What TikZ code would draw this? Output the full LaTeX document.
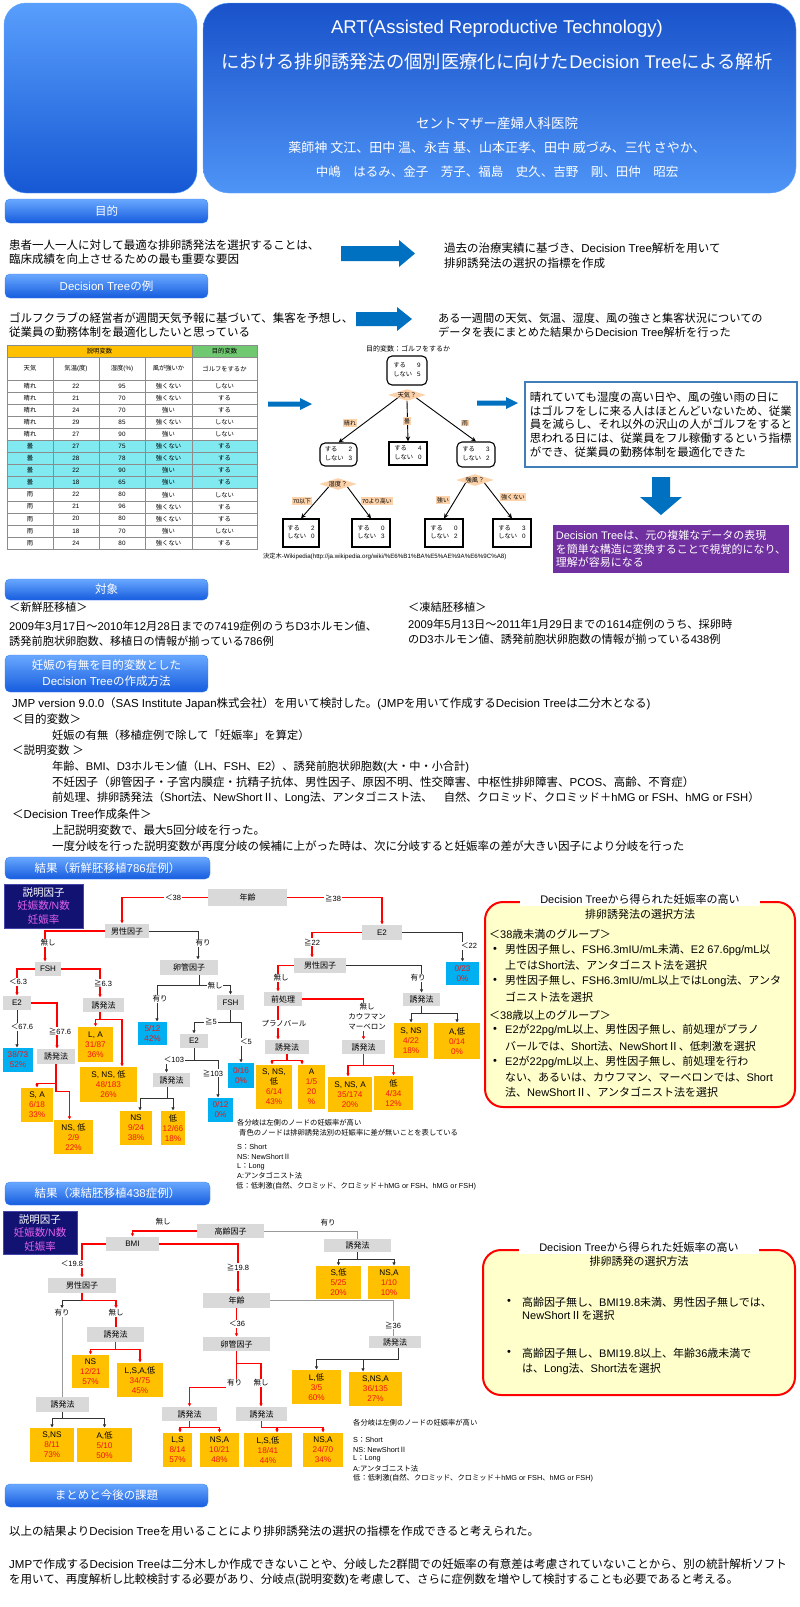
\documentclass[tikz,border=0pt]{standalone}
\usepackage{fontspec}
\setmainfont{Liberation Sans}
\newfontfamily\cjkf{Noto Sans CJK JP}
\newfontfamily\latf{Liberation Sans}
\XeTeXinterchartokenstate=1
\newXeTeXintercharclass\CJKcls
\newcount\cjkcc
\cjkcc="2E80 \loop \XeTeXcharclass\cjkcc=\CJKcls \ifnum\cjkcc<"9FFF \advance\cjkcc by 1 \repeat
\cjkcc="FF00 \loop \XeTeXcharclass\cjkcc=\CJKcls \ifnum\cjkcc<"FFEF \advance\cjkcc by 1 \repeat
\cjkcc="2160 \loop \XeTeXcharclass\cjkcc=\CJKcls \ifnum\cjkcc<"217F \advance\cjkcc by 1 \repeat
\XeTeXcharclass"2266=\CJKcls
\XeTeXcharclass"2267=\CJKcls
\XeTeXinterchartoks 0 \CJKcls = {\cjkf}
\XeTeXinterchartoks 4095 \CJKcls = {\cjkf}
\XeTeXinterchartoks \CJKcls 0 = {\latf}
\XeTeXinterchartoks 4095 0 = {\latf}
\usetikzlibrary{arrows.meta,shapes.geometric}
\definecolor{arrowblue}{RGB}{0,112,192}
\definecolor{boxgray}{RGB}{217,217,217}
\definecolor{boxorange}{RGB}{255,192,0}
\definecolor{boxblue}{RGB}{0,176,240}
\definecolor{resred}{RGB}{240,20,20}
\definecolor{navyfill}{RGB}{18,18,115}
\definecolor{navyedge}{RGB}{70,70,170}
\definecolor{pinktext}{RGB}{225,95,235}
\definecolor{peach}{RGB}{252,210,170}
\definecolor{purplebox}{RGB}{112,48,160}
\definecolor{steelbd}{RGB}{65,125,185}
\definecolor{lyellow}{RGB}{255,255,204}
\definecolor{tcyan}{RGB}{128,234,240}
\definecolor{tyellow}{RGB}{255,192,0}
\definecolor{tgreen}{RGB}{112,200,112}
\definecolor{barA}{RGB}{105,168,255}
\definecolor{barB}{RGB}{22,92,222}
\definecolor{barE}{RGB}{60,130,240}
\definecolor{hlA}{RGB}{88,158,252}
\definecolor{hlB}{RGB}{22,88,212}
\definecolor{htA}{RGB}{25,82,202}
\definecolor{htB}{RGB}{78,148,246}
\definecolor{hedge}{RGB}{95,165,255}
\newcounter{tn}
\newcommand\tx[3][]{\stepcounter{tn}\node[txt,#1] (t\thetn) at (#2) {#3};}
\newcommand\bx[7]{\node[#6,minimum width={(#4)-(#2)},minimum height={(#5)-(#3)}] (#1) at ({((#2)+(#4))/2},{((#3)+(#5))/2}) {#7};}
\newcommand\rr[1]{\textcolor{resred}{#1}}
\newcommand\secbar[6]{\shadedraw[top color=barA,bottom color=barB,draw=barE,rounded corners=5pt] (#2,#3) rectangle (#4,#5);
 \node[bartxt] (#1) at ({((#2)+(#4))/2},{((#3)+(#5))/2}) {#6};}
\newcommand\gval[2]{\begin{tabular}{@{}l@{\hspace{5pt}}r@{}}する&#1\\しない&#2\end{tabular}}
\begin{document}
\begin{tikzpicture}[x=1pt,y=-1pt,
 txt/.style={anchor=west,inner sep=0pt,font=\fontsize{11.5}{13.5}\selectfont},
 sm/.style={font=\fontsize{11.2}{13.5}\selectfont},
 bartxt/.style={text=white,inner sep=0pt,align=center,font=\fontsize{11.5}{16}\selectfont},
 gb/.style={fill=boxgray,inner sep=0pt,font=\fontsize{8}{9}\selectfont},
 ob/.style={fill=boxorange,inner sep=0pt,align=center,font=\fontsize{8.2}{10}\selectfont},
 bb/.style={fill=boxblue,inner sep=0pt,align=center,font=\fontsize{8.2}{10}\selectfont,text=resred},
 rl/.style={draw=red,line width=1.2pt},
 kl/.style={draw=black!80,line width=0.9pt},
 gl/.style={draw=black!40,line width=0.9pt},
 arr/.style={-{Latex[length=3.5pt,width=3.5pt]}},
 lab/.style={fill=white,inner sep=0.8pt,font=\fontsize{7.5}{10}\selectfont,align=center},
 legbox/.style={fill=navyfill,draw=navyedge,inner sep=0pt,align=center,text=white,font=\fontsize{10.5}{13.5}\selectfont},
 gnode/.style={draw,line width=1.1pt,inner sep=0pt,font=\fontsize{6.3}{8.5}\selectfont},
 gdia/.style={shape=diamond,fill=peach,inner sep=0pt,aspect=3.2,font=\fontsize{6.3}{7}\selectfont},
 glab/.style={fill=peach,inner sep=1pt,font=\fontsize{5.8}{7}\selectfont},
 gedge/.style={draw=black,line width=0.9pt,-{Stealth[length=5pt,width=4.5pt]}},
 tgrid/.style={draw=black!45,line width=0.4pt},
 tc/.style={inner sep=0pt,font=\fontsize{6.3}{7}\selectfont},
 rbox/.style={draw=red,line width=2pt,fill=lyellow,rounded corners=18pt,inner sep=0pt},
 rtitle/.style={fill=white,inner xsep=20pt,inner ysep=2pt,font=\fontsize{11}{13}\selectfont},
 fb/.style={txt,font=\fontsize{11}{13}\selectfont},
 note/.style={txt,font=\fontsize{7.3}{9}\selectfont},
 ttl/.style={anchor=center,text=white},
]
\useasboundingbox (0,0) rectangle (800,1607);
% ---------------- header
\shadedraw[top color=hlA,bottom color=hlB,draw=hedge,rounded corners=22pt] (4,3) rectangle (197,193);
\shadedraw[top color=htA,bottom color=htB,draw=hedge,rounded corners=26pt] (203,3) rectangle (796,193);
\tx[ttl,font=\fontsize{18.5}{21}\selectfont]{497,29}{ART(Assisted Reproductive Technology)}
\tx[ttl,font=\fontsize{18.3}{21}\selectfont]{497,62}{における排卵誘発法の個別医療化に向けたDecision Treeによる解析}
\tx[ttl,font=\fontsize{13.5}{15}\selectfont]{497,123}{セントマザー産婦人科医院}
\tx[ttl,font=\fontsize{13}{15}\selectfont]{497,148}{薬師神 文江、田中 温、永吉 基、山本正孝、田中 威づみ、三代 さやか、}
\tx[ttl,font=\fontsize{12.5}{15}\selectfont]{497,172}{中嶋　はるみ、金子　芳子、福島　史久、吉野　剛、田仲　昭宏}
% ---------------- purpose
\secbar{bar1}{5}{199}{208}{223}{目的}
\tx{9,245}{患者一人一人に対して最適な排卵誘発法を選択することは、}
\tx{9,259}{臨床成績を向上させるための最も重要な要因}
\fill[arrowblue] (341,246) -- (399,246) -- (399,240) -- (415,253.5) -- (399,267) -- (399,261) -- (341,261) -- cycle;
\tx{444,248}{過去の治療実績に基づき、Decision Tree解析を用いて}
\tx{444,263}{排卵誘発法の選択の指標を作成}
\secbar{bar2}{5}{274}{208}{298}{Decision Treeの例}
\tx{9,318}{ゴルフクラブの経営者が週間天気予報に基づいて、集客を予想し、}
\tx{9,332}{従業員の勤務体制を最適化したいと思っている}
\fill[arrowblue] (356,312) -- (397,312) -- (397,307) -- (412,319) -- (397,331) -- (397,326) -- (356,326) -- cycle;
\tx[sm]{438,318}{ある一週間の天気、気温、湿度、風の強さと集客状況についての}
\tx[sm]{438,332}{データを表にまとめた結果からDecision Tree解析を行った}
% ---------------- golf table
\fill[tyellow] (7,345) rectangle (192,357);
\fill[tgreen] (192,345) rectangle (257,357);
\fill[tcyan] (7,440.35) rectangle (257,488.63);
\draw[tgrid] (7,345) rectangle (257,549);
\draw[tgrid] (7,357) -- (257,357) (192,345) -- (192,357);
\foreach \i in {0,...,13} \draw[tgrid] (7,{380+\i*12.07}) -- (257,{380+\i*12.07});
\foreach \xx in {53,99,145,192} \draw[tgrid] (\xx,357) -- (\xx,549);
\node[tc] (th1) at (99.5,351) {説明変数};
\node[tc] (th2) at (224.5,351) {目的変数};
\node[tc] (th3) at (30,368.5) {天気};
\node[tc] (th4) at (76,368.5) {気温(度)};
\node[tc] (th5) at (122,368.5) {湿度(\%)};
\node[tc] (th6) at (168.5,368.5) {風が強いか};
\node[tc] (th7) at (224.5,368.5) {ゴルフをするか};
\foreach \a/\b/\c/\d/\e [count=\i from 0] in {晴れ/22/95/強くない/しない,晴れ/21/70/強くない/する,晴れ/24/70/強い/する,晴れ/29/85/強くない/しない,晴れ/27/90/強い/しない,曇/27/75/強くない/する,曇/28/78/強くない/する,曇/22/90/強い/する,曇/18/65/強い/する,雨/22/80/強い/しない,雨/21/96/強くない/する,雨/20/80/強くない/する,雨/18/70/強い/しない,雨/24/80/強くない/する}{
 \pgfmathsetmacro\yy{386.03+\i*12.07}
 \node[tc] (ca\i) at (30,\yy) {\a};
 \node[tc] (cb\i) at (76,\yy) {\b};
 \node[tc] (cc\i) at (122,\yy) {\c};
 \node[tc] (cd\i) at (168.5,\yy) {\d};
 \node[tc] (ce\i) at (224.5,\yy) {\e};
}
\fill[arrowblue] (268,401.5) -- (300,401.5) -- (300,398) -- (312,404) -- (300,410) -- (300,406.5) -- (268,406.5) -- cycle;
% ---------------- golf tree
\node[inner sep=0pt,font=\fontsize{7}{8}\selectfont] (gtitle) at (408,349) {目的変数：ゴルフをするか};
\bx{groot}{387}{356}{427}{385}{gnode,rounded corners=5pt}{\gval{9}{5}}
\node[gdia] (d1) at (407,395) {天気？};
\bx{gc1}{320}{443}{357}{466}{gnode,rounded corners=5pt}{\gval{2}{3}}
\bx{gc2}{389}{442}{427}{465}{gnode}{\gval{4}{0}}
\bx{gc3}{457}{442}{495}{467}{gnode,rounded corners=5pt}{\gval{3}{2}}
\node[gdia] (d2) at (338,484) {湿度？};
\node[gdia] (d3) at (475,480) {強風？};
\bx{gl1}{283}{519}{319}{547}{gnode}{\gval{2}{0}}
\bx{gl2}{352}{519}{390}{547}{gnode}{\gval{0}{3}}
\bx{gl3}{425}{519}{463}{547}{gnode}{\gval{0}{2}}
\bx{gl4}{493}{519}{531}{547}{gnode}{\gval{3}{0}}
\draw[gedge] (d1.south west) -- (gc1.north);
\draw[gedge] (d1.south) -- (gc2.north);
\draw[gedge] (d1.south east) -- (gc3.north);
\draw[gedge] (d2.south west) -- (gl1.north);
\draw[gedge] (d2.south east) -- (gl2.north);
\draw[gedge] (d3.south west) -- (gl3.north);
\draw[gedge] (d3.south east) -- (gl4.north);
\node[glab] (ge1) at (350,423) {晴れ};
\node[glab] (ge2) at (407,421) {曇};
\node[glab] (ge3) at (465,423) {雨};
\node[glab] (ge4) at (302,501) {70以下};
\node[glab] (ge5) at (377,501) {70より高い};
\node[glab] (ge6) at (443,500) {強い};
\node[glab] (ge7) at (513,497) {強くない};
\node[anchor=west,inner sep=0pt,font=\fontsize{6.2}{7}\selectfont] (gcap) at (263,557) {決定木-Wikipedia(http://ja.wikipedia.org/wiki/\%E6\%B1\%BA\%E5\%AE\%9A\%E6\%9C\%A8)};
\fill[arrowblue] (477,400.5) -- (506,400.5) -- (506,397) -- (518,403) -- (506,409) -- (506,405.5) -- (477,405.5) -- cycle;
\node[draw=steelbd,line width=1.4pt,fill=white,minimum width=272,minimum height=85,align=left,inner sep=0pt,font=\fontsize{11.4}{13.6}\selectfont] (gbox) at (661,424.5) {晴れていても湿度の高い日や、風の強い雨の日に\\はゴルフをしに来る人はほとんどいないため、従業\\員を減らし、それ以外の沢山の人がゴルフをすると\\思われる日には、従業員をフル稼働するという指標\\ができ、従業員の勤務体制を最適化できた};
\fill[arrowblue] (652,477) -- (670,477) -- (670,497) -- (682,497) -- (661,515) -- (640,497) -- (652,497) -- cycle;
\node[fill=purplebox,minimum width=236,minimum height=48,align=left,inner sep=0pt,text=white,font=\fontsize{11}{13.5}\selectfont] (pbox) at (671,549) {Decision Treeは、元の複雑なデータの表現\\を簡単な構造に変換することで視覚的になり、\\理解が容易になる};
% ---------------- subjects
\secbar{bar3}{5}{579}{208}{600}{対象}
\tx[sm]{9,607}{＜新鮮胚移植＞}
\tx[sm]{9,626}{2009年3月17日～2010年12月28日までの7419症例のうちD3ホルモン値、}
\tx[sm]{9,641}{誘発前胞状卵胞数、移植日の情報が揃っている786例}
\tx[sm]{408,607}{＜凍結胚移植＞}
\tx[sm]{408,624}{2009年5月13日～2011年1月29日までの1614症例のうち、採卵時}
\tx[sm]{408,639}{のD3ホルモン値、誘発前胞状卵胞数の情報が揃っている438例}
\secbar{bar4}{5}{655}{208}{692}{妊娠の有無を目的変数とした\\Decision Treeの作成方法}
\tx{12,704}{JMP version 9.0.0（SAS Institute Japan株式会社）を用いて検討した。(JMPを用いて作成するDecision Treeは二分木となる)}
\tx{12,719}{＜目的変数＞}
\tx[sm]{52,735}{妊娠の有無（移植症例で除して「妊娠率」を算定）}
\tx{12,750}{＜説明変数 ＞}
\tx[sm]{52,767}{年齢、BMI、D3ホルモン値（LH、FSH、E2）、誘発前胞状卵胞数(大・中・小合計)}
\tx{52,782}{不妊因子（卵管因子・子宮内膜症・抗精子抗体、男性因子、原因不明、性交障害、中枢性排卵障害、PCOS、高齢、不育症）}
\tx[sm]{52,798}{前処理、排卵誘発法（Short法、NewShortⅡ、Long法、アンタゴニスト法、　自然、クロミッド、クロミッド＋hMG or FSH、hMG or FSH）}
\tx{12,814}{＜Decision Tree作成条件＞}
\tx{52,830}{上記説明変数で、最大5回分岐を行った。}
\tx{52,846}{一度分岐を行った説明変数が再度分岐の候補に上がった時は、次に分岐すると妊娠率の差が大きい因子により分岐を行った}
% ---------------- fresh results
\secbar{bar5}{5}{857}{210}{879}{結果（新鮮胚移植786症例）}
\bx{leg1}{4}{884}{83}{928}{legbox}{説明因子\\\textcolor{pinktext}{妊娠数/N数}\\\textcolor{pinktext}{妊娠率}}
\bx{age}{208}{889}{287}{906}{gb}{年齢}
\bx{mf1}{105}{924}{149}{938}{gb}{男性因子}
\bx{fsh1}{35}{962}{61}{976}{gb}{FSH}
\bx{e2a}{3}{996}{31}{1010}{gb}{E2}
\bx{ind1}{83}{998}{124}{1012}{gb}{誘発法}
\bx{ind2}{37}{1049}{75}{1064}{gb}{誘発法}
\bx{tube1}{160}{960}{218}{975}{gb}{卵管因子}
\bx{fsh2}{217}{995}{244}{1010}{gb}{FSH}
\bx{e2b}{180}{1034}{208}{1048}{gb}{E2}
\bx{ind3}{153}{1073}{190}{1087}{gb}{誘発法}
\bx{e2c}{362}{925}{402}{940}{gb}{E2}
\bx{mf2}{294}{958}{346}{973}{gb}{男性因子}
\bx{pre}{264}{992}{302}{1006}{gb}{前処理}
\bx{ind4}{403}{993}{440}{1006}{gb}{誘発法}
\bx{ind5}{265}{1040}{309}{1054}{gb}{誘発法}
\bx{ind6}{342}{1040}{385}{1054}{gb}{誘発法}
\bx{b1}{3}{1048}{33}{1072}{bb}{38/73\\52\%}
\bx{o1}{21}{1088}{53}{1122}{ob}{S, A\\\rr{6/18}\\\rr{33\%}}
\bx{o2}{54}{1120}{93}{1154}{ob}{NS, 低\\\rr{2/9}\\\rr{22\%}}
\bx{o3}{78}{1027}{113}{1062}{ob}{L, A\\\rr{31/87}\\\rr{36\%}}
\bx{o4}{80}{1067}{137}{1102}{ob}{S, NS, 低\\\rr{48/183}\\\rr{26\%}}
\bx{b2}{138}{1022}{167}{1045}{bb}{5/12\\42\%}
\bx{b3}{228}{1063}{254}{1088}{bb}{0/16\\0\%}
\bx{b4}{208}{1098}{233}{1122}{bb}{0/12\\0\%}
\bx{o5}{120}{1111}{152}{1145}{ob}{NS\\\rr{9/24}\\\rr{38\%}}
\bx{o6}{161}{1111}{185}{1145}{ob}{低\\\rr{12/66}\\\rr{18\%}}
\bx{b5}{446}{962}{479}{985}{bb}{0/23\\0\%}
\bx{o7}{256}{1065}{292}{1109}{ob}{S, NS,\\低\\\rr{6/14}\\\rr{43\%}}
\bx{o8}{298}{1065}{325}{1109}{ob}{A\\\rr{1/5}\\\rr{20}\\\rr{\%}}
\bx{o9}{328}{1077}{372}{1112}{ob}{S, NS, A\\\rr{35/174}\\\rr{20\%}}
\bx{o10}{374}{1076}{413}{1110}{ob}{低\\\rr{4/34}\\\rr{12\%}}
\bx{o11}{394}{1023}{428}{1058}{ob}{S, NS\\\rr{4/22}\\\rr{18\%}}
\bx{o12}{434}{1023}{480}{1059}{ob}{A,低\\\rr{0/14}\\\rr{0\%}}
\draw[rl,arr] (age.west) -| ([xshift=-5pt]mf1.north);
\draw[rl,arr] (age.east) -| (e2c.north);
\draw[rl,arr] (mf1.west) -| ([xshift=-3pt]fsh1.north);
\draw[kl,arr] (mf1.east) -| ([xshift=9pt]tube1.north);
\draw[rl,arr] (fsh1.west) -| (e2a.north);
\draw[rl,arr] (fsh1.east) -| ([xshift=-3.5pt]ind1.north);
\draw[kl,arr] (e2a.south) -- (e2a.south |- b1.north);
\draw[rl,arr] (e2a.east) -| ([xshift=1pt]ind2.north);
\draw[rl,arr] (ind2.south) -- ++(0,19) -| (o1.north);
\draw[rl,arr] (ind2.south) -- ++(0,27) -| ([xshift=-4pt]o2.north);
\draw[rl,arr] ([xshift=-3.5pt]ind1.south) -- ++(0,7) -| (o3.north);
\draw[rl,arr] ([xshift=-3.5pt]ind1.south) -- ++(0,7) -| ([xshift=13.5pt]o4.north);
\draw[kl,arr] ([xshift=10pt]tube1.south) -- ++(0,10) -| ([xshift=4.5pt]b2.north);
\draw[kl,arr] ([xshift=10pt]tube1.south) -- ++(0,10) -| (fsh2.north);
\draw[kl,arr] (fsh2.south) -- ++(0,12) -| (e2b.north);
\draw[kl,arr] (fsh2.south) -- ++(0,12) -| (b3.north);
\draw[kl,arr] (e2b.south) -- ++(0,12) -| ([xshift=-5pt]ind3.north);
\draw[kl,arr] (e2b.south) -- ++(0,12) -| ([xshift=-2.5pt]b4.north);
\draw[kl,arr] ([xshift=-4.5pt]ind3.south) -- ++(0,11) -| ([xshift=4pt]o5.north);
\draw[kl,arr] ([xshift=-4.5pt]ind3.south) -- ++(0,11) -| (o6.north);
\draw[rl,arr] (e2c.west) -| ([xshift=-8pt]mf2.north);
\draw[kl,arr] (e2c.east) -| (b5.north);
\draw[rl,arr] (mf2.west) -| ([xshift=-5pt]pre.north);
\draw[kl,arr] (mf2.east) -| (ind4.north);
\draw[rl,arr] (pre.east) -| (ind6.north);
\draw[rl,arr] ([xshift=-5pt]pre.south) -- ([xshift=-5pt]pre.south |- ind5.north);
\draw[rl,arr] (ind5.south) -- ++(0,6) -| ([xshift=-2pt]o7.north);
\draw[rl,arr] (ind5.south) -- ++(0,6) -| ([xshift=-9.5pt]o8.north);
\draw[rl,arr] (ind6.south) -- ++(0,11) -| ([xshift=-2pt]o9.north);
\draw[rl,arr] (ind6.south) -- ++(0,11) -| (o10.north);
\draw[kl,arr] (ind4.south) -- ++(0,7) -| (o11.north);
\draw[kl,arr] (ind4.south) -- ++(0,7) -| (o12.north);
\node[lab] (l1) at (173,898) {＜38};
\node[lab] (l2) at (333,898) {≧38};
\node[lab] (l3) at (48,943) {無し};
\node[lab] (l4) at (203,943) {有り};
\node[lab] (l5) at (18,982) {＜6.3};
\node[lab] (l6) at (103,983) {≧6.3};
\node[lab] (l7) at (22,1027) {＜67.6};
\node[lab] (l8) at (60,1031) {≧67.6};
\node[lab] (l9) at (160,999) {有り};
\node[lab] (l10) at (215,986) {無し};
\node[lab] (l11) at (211,1021) {≧5};
\node[lab] (l12) at (246,1042) {＜5};
\node[lab] (l13) at (174,1060) {＜103};
\node[lab] (l14) at (213,1073) {≧103};
\node[lab] (l15) at (312,942) {≧22};
\node[lab] (l16) at (469,946) {＜22};
\node[lab] (l17) at (281,978) {無し};
\node[lab] (l18) at (418,978) {有り};
\node[lab] (l19) at (367,1017) {無し\\カウフマン\\マーベロン};
\node[lab] (l20) at (284,1024) {プラノバール};
\tx[note]{237,1123}{各分岐は左側のノードの妊娠率が高い}
\tx[note]{239,1133}{青色のノードは排卵誘発法別の妊娠率に差が無いことを表している}
\tx[note]{237,1147}{S：Short}
\tx[note]{237,1157}{NS: NewShortⅡ}
\tx[note]{237,1167}{L：Long}
\tx[note]{237,1176}{A:アンタゴニスト法}
\tx[note]{236,1186}{低：低刺激(自然、クロミッド、クロミッド＋hMG or FSH、hMG or FSH)}
% fresh summary box
\bx{rb1}{485}{902}{795}{1107}{rbox}{}
\node[rtitle] (rt1) at (640,899) {Decision Treeから得られた妊娠率の高い};
\node[inner sep=0pt,font=\fontsize{11}{13}\selectfont] (rt2) at (640,914) {排卵誘発法の選択方法};
\tx[fb]{489,934}{＜38歳未満のグループ＞}
\tx[fb]{493,950}{•}\tx[fb]{505,950}{男性因子無し、FSH6.3mIU/mL未満、E2 67.6pg/mL以}
\tx[fb]{505,965}{上ではShort法、アンタゴニスト法を選択}
\tx[fb]{493,981}{•}\tx[fb]{505,981}{男性因子無し、FSH6.3mIU/mL以上ではLong法、アンタ}
\tx[fb]{505,997}{ゴニスト法を選択}
\tx[fb]{489,1015}{＜38歳以上のグループ＞}
\tx[fb]{493,1030}{•}\tx[fb]{505,1030}{E2が22pg/mL以上、男性因子無し、前処理がプラノ}
\tx[fb]{505,1046}{バールでは、Short法、NewShortⅡ、低刺激を選択}
\tx[fb]{493,1062}{•}\tx[fb]{505,1062}{E2が22pg/mL以上、男性因子無し、前処理を行わ}
\tx[fb]{505,1077}{ない、あるいは、カウフマン、マーベロンでは、Short}
\tx[fb]{505,1092}{法、NewShortⅡ、アンタゴニスト法を選択}
% ---------------- frozen results
\secbar{bar6}{5}{1182}{210}{1205}{結果（凍結胚移植438症例）}
\bx{leg2}{3}{1211}{77}{1254}{legbox}{説明因子\\\textcolor{pinktext}{妊娠数/N数}\\\textcolor{pinktext}{妊娠率}}
\bx{old}{197}{1224}{264}{1238}{gb}{高齢因子}
\bx{bmi}{106}{1237}{159}{1251}{gb}{BMI}
\bx{ind7}{324}{1239}{391}{1252}{gb}{誘発法}
\bx{mf3}{48}{1278}{116}{1293}{gb}{男性因子}
\bx{age2}{203}{1293}{270}{1308}{gb}{年齢}
\bx{ind8}{87}{1327}{144}{1342}{gb}{誘発法}
\bx{ind9}{36}{1397}{89}{1412}{gb}{誘発法}
\bx{tube2}{203}{1337}{270}{1351}{gb}{卵管因子}
\bx{ind10}{369}{1336}{421}{1348}{gb}{誘発法}
\bx{ind11}{162}{1407}{217}{1421}{gb}{誘発法}
\bx{ind12}{236}{1407}{287}{1421}{gb}{誘発法}
\bx{p1}{316}{1266}{361}{1299}{ob}{S,低\\\rr{5/25}\\\rr{20\%}}
\bx{p2}{368}{1266}{410}{1299}{ob}{NS,A\\\rr{1/10}\\\rr{10\%}}
\bx{p3}{72}{1355}{109}{1388}{ob}{NS\\\rr{12/21}\\\rr{57\%}}
\bx{p4}{117}{1363}{163}{1397}{ob}{L,S,A,低\\\rr{34/75}\\\rr{45\%}}
\bx{p5}{30}{1428}{74}{1462}{ob}{S,NS\\\rr{8/11}\\\rr{73\%}}
\bx{p6}{77}{1428}{132}{1462}{ob}{A,低\\\rr{5/10}\\\rr{50\%}}
\bx{p7}{292}{1370}{341}{1404}{ob}{L,低\\\rr{3/5}\\\rr{60\%}}
\bx{p8}{349}{1372}{402}{1406}{ob}{S,NS,A\\\rr{36/135}\\\rr{27\%}}
\bx{p9}{163}{1433}{192}{1467}{ob}{L,S\\\rr{8/14}\\\rr{57\%}}
\bx{p10}{200}{1433}{239}{1467}{ob}{NS,A\\\rr{10/21}\\\rr{48\%}}
\bx{p11}{244}{1433}{292}{1467}{ob}{L,S,低\\\rr{18/41}\\\rr{44\%}}
\bx{p12}{303}{1433}{343}{1467}{ob}{NS,A\\\rr{24/70}\\\rr{34\%}}
\node[lab] (fa1) at (62,1313) {有り};
\node[lab] (fn1) at (116,1313) {無し};
\node[lab] (fa2) at (234.5,1383) {有り};
\node[lab] (fn2) at (261,1383) {無し};
\draw[rl,arr] (old.west) -| (bmi.north);
\draw[gl] (old.east) -| (ind7.north);
\draw[kl,arr] (ind7.south) -- ++(0,7) -| (p1.north);
\draw[kl,arr] (ind7.south) -- ++(0,7) -| ([xshift=5pt]p2.north);
\draw[rl,arr] (bmi.west) -| (mf3.north);
\draw[rl,arr] (bmi.east) -| ([xshift=1.5pt]age2.north);
\draw[kl,arr] (mf3.south) -- ++(0,7) -| (fa1.north);
\draw[rl,arr] (mf3.south) -- ++(0,7) -| (fn1.north);
\draw[gl] (fa1.south) -- (fa1.south |- ind9.north);
\draw[rl] (fn1.south) -- (fn1.south |- ind8.north);
\draw[rl,arr] (ind8.south) -- ++(0,7) -| (p3.north);
\draw[rl,arr] (ind8.south) -- ++(0,7) -| (p4.north);
\draw[kl,arr] (ind9.south) -- ++(0,6) -| (p5.north);
\draw[kl,arr] (ind9.south) -- ++(0,6) -| (p6.north);
\draw[rl,arr] (age2.south) -- (tube2.north);
\draw[gl] (age2.east) -| ([xshift=-2pt]ind10.north);
\draw[kl,arr] ([xshift=3pt]ind10.south) -- ++(0,11) -| (p7.north);
\draw[kl,arr] ([xshift=3pt]ind10.south) -- ++(0,11) -| ([xshift=-12.5pt]p8.north);
\draw[rl] (tube2.south) -- (tube2.south |- fa2.north);
\draw[rl] (tube2.south) -- ++(0,12) -| (fn2.north);
\draw[rl,arr] (fa2.south west) -| (ind11.north);
\draw[rl,arr] (fn2.south) -- (fn2.south |- ind12.north);
\draw[rl,arr] (ind11.south) -- ++(0,6) -| ([xshift=2.5pt]p9.north);
\draw[rl,arr] (ind11.south) -- ++(0,6) -| (p10.north);
\draw[rl,arr] (ind12.south) -- ++(0,6) -| ([xshift=9pt]p11.north);
\draw[rl,arr] (ind12.south) -- ++(0,6) -| (p12.north);
\node[lab,fill=none] (fl1) at (163,1222) {無し};
\node[lab,fill=none] (fl2) at (328,1223) {有り};
\node[lab] (fl3) at (72,1264) {＜19.8};
\node[lab] (fl4) at (238,1267) {≧19.8};
\node[lab] (fl5) at (237,1324) {＜36};
\node[lab] (fl6) at (393,1325) {≧36};
\tx[note]{353,1423}{各分岐は左側のノードの妊娠率が高い}
\tx[note]{353,1440}{S：Short}
\tx[note]{353,1450}{NS: NewShortⅡ}
\tx[note]{353,1459}{L：Long}
\tx[note]{353,1469}{A:アンタゴニスト法}
\tx[note]{353,1478}{低：低刺激(自然、クロミッド、クロミッド＋hMG or FSH、hMG or FSH)}
% frozen summary box
\bx{rb2}{483}{1250}{795}{1395}{rbox}{}
\node[rtitle] (rt3) at (639,1247) {Decision Treeから得られた妊娠率の高い};
\node[inner sep=0pt,font=\fontsize{11}{13}\selectfont] (rt4) at (639,1261) {排卵誘発の選択方法};
\tx[fb]{507,1302}{•}\tx[fb]{522,1302}{高齢因子無し、BMI19.8未満、男性因子無しでは、}
\tx[fb]{522,1315}{NewShortⅡを選択}
\tx[fb]{507,1353}{•}\tx[fb]{522,1353}{高齢因子無し、BMI19.8以上、年齢36歳未満で}
\tx[fb]{522,1369}{は、Long法、Short法を選択}
% ---------------- conclusion
\secbar{bar7}{5}{1484}{208}{1507}{まとめと今後の課題}
\tx{9,1531}{以上の結果よりDecision Treeを用いることにより排卵誘発法の選択の指標を作成できると考えられた。}
\tx{9,1564}{JMPで作成するDecision Treeは二分木しか作成できないことや、分岐した2群間での妊娠率の有意差は考慮されていないことから、別の統計解析ソフト}
\tx{9,1580}{を用いて、再度解析し比較検討する必要があり、分岐点(説明変数)を考慮して、さらに症例数を増やして検討することも必要であると考える。}
\end{tikzpicture}
\end{document}
